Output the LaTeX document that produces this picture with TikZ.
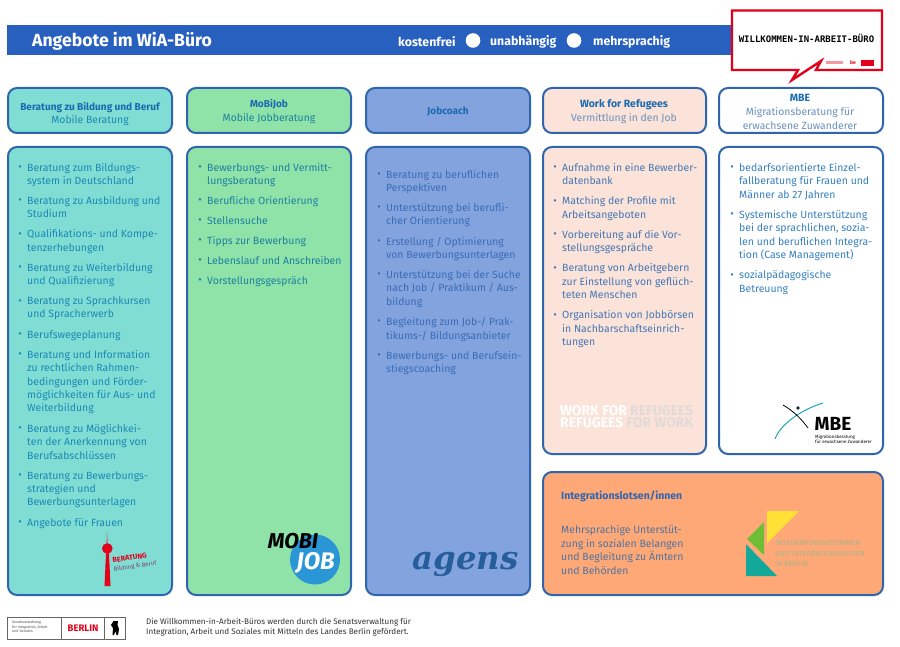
\documentclass[tikz,border=0pt]{standalone}
\usepackage{fontspec}
\setmainfont{Fira Sans}
\newfontfamily\agensfont{DejaVu Serif}
\newfontfamily\wbfont{DejaVu Sans Mono}
\usetikzlibrary{calc}
\definecolor{bordercol}{HTML}{2F65AE}
\definecolor{bannercol}{HTML}{2860C0}
\definecolor{tealfill}{HTML}{7FDDD3}
\definecolor{greenfill}{HTML}{90E3A8}
\definecolor{bluefill}{HTML}{82A3DD}
\definecolor{pinkfill}{HTML}{FBE3D9}
\definecolor{orangefill}{HTML}{FFA877}
\definecolor{tealtxt}{HTML}{1C88B6}
\definecolor{greentxt}{HTML}{1B80A0}
\definecolor{bluetxt}{HTML}{3A6CB6}
\definecolor{pinktxt}{HTML}{4576B4}
\definecolor{subtxt}{HTML}{6A90BE}
\definecolor{whitetxt}{HTML}{3680C0}
\definecolor{orangetxt}{HTML}{4E74A0}
\definecolor{headtxt}{HTML}{1B6AB0}
\definecolor{redc}{HTML}{E2001A}
\definecolor{mobiblue}{HTML}{2A96D6}
\definecolor{mbeteal}{HTML}{20A8B8}
\definecolor{ilyellow}{HTML}{FFE135}
\definecolor{ilgreen}{HTML}{6DBE35}
\definecolor{ilteal}{HTML}{14A89A}
\definecolor{iltext}{HTML}{A9B38C}
\definecolor{agenscol}{HTML}{265E9C}
\definecolor{wfrlight}{HTML}{E2DAD8}
\tikzset{
  x=1pt,y=-1pt,
  panel/.style={draw=bordercol,line width=2pt,rounded corners=9pt},
  hd/.style={inner sep=0pt,align=center,text=headtxt,font=\fontsize{10.05}{13.4}\selectfont\bfseries},
  sub/.style={inner sep=0pt,align=center,font=\fontsize{10.4}{13.6}\selectfont},
  lst/.style={inner sep=0pt,anchor=north west,align=left,font=\fontsize{10.45}{13.4}\selectfont},
  blt/.style={inner sep=0pt,font=\fontsize{10.6}{13.4}\selectfont},
  bann/.style={inner sep=0pt,text=white,font=\fontsize{12.3}{14}\selectfont\bfseries},
  wfr/.style={inner sep=0pt,anchor=west,align=left,text=white,font=\fontsize{13.9}{12}\selectfont\bfseries},
}
\newcommand{\itm}[5]{%
  \node[blt,text=#5] (b#1) at (#2-7,#3+1.5) {•};
  \node[lst,text=#5] (t#1) at (#2,#3-4) {#4};}
\begin{document}
\begin{tikzpicture}
\useasboundingbox (0,0) rectangle (900,647);
% banner
\fill[bannercol] (7,25) rectangle (740,55);
\node[bann,anchor=west,font=\fontsize{17.6}{20}\selectfont\bfseries] (title) at (32,41) {Angebote im WiA-Büro};
\node[bann,anchor=west] (k1) at (398,41.5) {kostenfrei};
\fill[white] (473,40.5) circle (7.3);
\node[bann,anchor=west] (k2) at (490,41.5) {unabhängig};
\fill[white] (574,40.5) circle (7.3);
\node[bann,anchor=west] (k3) at (593,41.5) {mehrsprachig};
% callout
\draw[redc,line width=2.4pt,fill=white,miter limit=10] (732,10.5) -- (882,10.5) -- (882,70) -- (816,70) -- (821,61) -- (792,80) -- (798,70) -- (732,70) -- cycle;
\node[inner sep=0pt,font=\wbfont\fontsize{9}{10}\selectfont\bfseries,text=black] (wb) at (806.5,38) {WILLKOMMEN-IN-ARBEIT-BÜRO};
\fill[redc!40] (826,61) rectangle (843,64);
\node[inner sep=0pt,font=\fontsize{5}{5}\selectfont\bfseries,text=redc] (be) at (853,63) {be};
\fill[redc] (861,60.5) rectangle (874,66);
% header panels
\path[panel,fill=tealfill] (8,88) rectangle (172,133);
\path[panel,fill=greenfill] (187,88) rectangle (351,133);
\path[panel,fill=bluefill] (366,88) rectangle (530,133);
\path[panel,fill=pinkfill] (543,88) rectangle (706,133);
\path[panel,fill=white] (719,88) rectangle (883,133);
% body panels
\path[panel,fill=tealfill] (8,147) rectangle (172,595);
\path[panel,fill=greenfill] (187,147) rectangle (351,595);
\path[panel,fill=bluefill] (366,147) rectangle (530,595);
\path[panel,fill=pinkfill] (543,147) rectangle (706,454);
\path[panel,fill=white] (719,147) rectangle (883,454);
\path[panel,fill=orangefill] (543,472) rectangle (883,595);
% header text
\node[hd,anchor=center] (h1a) at (90,107.5) {Beratung zu Bildung und Beruf};
\node[sub,text=tealtxt] (h1b) at (90,120.5) {Mobile Beratung};
\node[hd] (h2a) at (269,104.5) {MoBiJob};
\node[sub,text=greentxt] (h2b) at (269,118.5) {Mobile Jobberatung};
\node[hd] (h3a) at (448,111.5) {Jobcoach};
\node[hd,font=\fontsize{10.5}{13.4}\selectfont\bfseries] (h4a) at (624,104.5) {Work for Refugees};
\node[sub,text=subtxt] (h4b) at (624,118.5) {Vermittlung in den Job};
\node[hd,font=\fontsize{10.5}{13.4}\selectfont\bfseries] (h5a) at (800,97.5) {MBE};
\node[sub,text=subtxt] (h5b) at (800,118.5) {Migrationsberatung für\\erwachsene Zuwanderer};
% col 1
\itm{a1}{27}{167}{Beratung zum Bildungs-\\system in Deutschland}{tealtxt}
\itm{a2}{27}{200}{Beratung zu Ausbildung und\\Studium}{tealtxt}
\itm{a3}{27}{233.5}{Qualifikations- und Kompe-\\tenzerhebungen}{tealtxt}
\itm{a4}{27}{267}{Beratung zu Weiterbildung\\und Qualifizierung}{tealtxt}
\itm{a5}{27}{300.5}{Beratung zu Sprachkursen\\und Spracherwerb}{tealtxt}
\itm{a6}{27}{334}{Berufswegeplanung}{tealtxt}
\itm{a7}{27}{354}{Beratung und Information\\zu rechtlichen Rahmen-\\bedingungen und Förder-\\möglichkeiten für Aus- und\\Weiterbildung}{tealtxt}
\itm{a8}{27}{428}{Beratung zu Möglichkei-\\ten der Anerkennung von\\Berufsabschlüssen}{tealtxt}
\itm{a9}{27}{475}{Beratung zu Bewerbungs-\\strategien und\\Bewerbungsunterlagen}{tealtxt}
\itm{a10}{27}{522}{Angebote für Frauen}{tealtxt}
% col 2
\itm{c1}{207}{167}{Bewerbungs- und Vermitt-\\lungsberatung}{greentxt}
\itm{c2}{207}{200}{Berufliche Orientierung}{greentxt}
\itm{c3}{207}{220}{Stellensuche}{greentxt}
\itm{c4}{207}{240}{Tipps zur Bewerbung}{greentxt}
\itm{c5}{207}{260}{Lebenslauf und Anschreiben}{greentxt}
\itm{c6}{207}{280}{Vorstellungsgespräch}{greentxt}
% col 3
\itm{d1}{386}{174}{Beratung zu beruflichen\\Perspektiven}{bluetxt}
\itm{d2}{386}{207}{Unterstützung bei berufli-\\cher Orientierung}{bluetxt}
\itm{d3}{386}{240.5}{Erstellung / Optimierung\\von Bewerbungsunterlagen}{bluetxt}
\itm{d4}{386}{274}{Unterstützung bei der Suche\\nach Job / Praktikum / Aus-\\bildung}{bluetxt}
\itm{d5}{386}{321}{Begleitung zum Job-/ Prak-\\tikums-/ Bildungsanbieter}{bluetxt}
\itm{d6}{386}{355}{Bewerbungs- und Berufsein-\\stiegscoaching}{bluetxt}
% col 4
\itm{e1}{562}{167}{Aufnahme in eine Bewerber-\\datenbank}{pinktxt}
\itm{e2}{562}{200.5}{Matching der Profile mit\\Arbeitsangeboten}{pinktxt}
\itm{e3}{562}{234}{Vorbereitung auf die Vor-\\stellungsgespräche}{pinktxt}
\itm{e4}{562}{267.5}{Beratung von Arbeitgebern\\zur Einstellung von geflüch-\\teten Menschen}{pinktxt}
\itm{e5}{562}{314.5}{Organisation von Jobbörsen\\in Nachbarschaftseinrich-\\tungen}{pinktxt}
% col 5
\itm{f1}{739}{167}{bedarfsorientierte Einzel-\\fallberatung für Frauen und\\Männer ab 27 Jahren}{whitetxt}
\itm{f2}{739}{214}{Systemische Unterstützung\\bei der sprachlichen, sozia-\\len und beruflichen Integra-\\tion (Case Management)}{whitetxt}
\itm{f3}{739}{274.5}{sozialpädagogische\\Betreuung}{whitetxt}
% integration
\node[hd,anchor=west,text=bordercol,font=\fontsize{10.5}{13}\selectfont\bfseries] (i1) at (561,496) {Integrationslotsen/innen};
\node[lst,text=orangetxt,font=\fontsize{10.45}{13.5}\selectfont] (i2) at (561,525.5) {Mehrsprachige Unterstüt-\\zung in sozialen Belangen\\und Begleitung zu Ämtern\\und Behörden};
% tower logo
\fill[redc] (107,532) -- (107.6,546) -- (109,554) -- (110.5,586) -- (104.5,586) -- (106,554) -- (106.6,546) -- cycle;
\fill[redc] (107.3,548.5) circle (5.3);
\node[inner sep=0pt,rotate=8,align=left,font=\fontsize{6}{8.4}\selectfont,text=tealtxt!50!redc] (tb) at (134.5,562) {\textcolor{redc}{\fontsize{7.2}{8.4}\selectfont\bfseries BERATUNG}\\Bildung \& Beruf};
% mobijob logo
\fill[mobiblue] (315,559.5) circle (25);
\node[inner sep=0pt,font=\fontsize{21.5}{22}\selectfont\bfseries\itshape,text=black] (m1) at (293,541.5) {MOBI};
\node[inner sep=0pt,font=\fontsize{24}{24}\selectfont\bfseries\itshape,text=white] (m2) at (315.5,563) {JOB};
% agens logo
\node[inner sep=0pt,font=\agensfont\fontsize{32.4}{33}\selectfont\bfseries\itshape,text=agenscol] (ag) at (465.5,564) {agens};
% work for refugees logo
\node[wfr] (w1) at (560,417) {WORK FOR \textcolor{wfrlight}{REFUGEES}\\REFUGEES \textcolor{wfrlight}{FOR WORK}};
% MBE logo
\draw[mbeteal,line width=1pt] (775,439) .. controls (780,425) and (800,410) .. (823,403);
\draw[black,line width=0.8pt] (783,405) .. controls (795,412) and (802,420) .. (808,428);
\fill[bordercol!40!black] (798,408) circle (1.8);
\node[inner sep=0pt,font=\fontsize{19}{20}\selectfont\bfseries,text=black] (mb) at (833,423.5) {MBE};
\node[inner sep=0pt,anchor=north west,align=left,font=\fontsize{4.5}{5.6}\selectfont,text=black] (mt) at (815,434.5) {Migrationsberatung\\für erwachsene Zuwanderer};
% integration logo
\fill[ilyellow] (767,511) -- (799,511) -- (767,543) -- cycle;
\fill[ilgreen] (764,522) -- (764,555) -- (747,539) -- cycle;
\fill[ilteal] (746,544) -- (777,576) -- (746,576) -- cycle;
\node[inner sep=0pt,anchor=north west,align=left,font=\fontsize{7.4}{10.7}\selectfont,text=iltext] (il) at (775,540) {INTEGRATIONSLOTSINNEN\\UND INTEGRATIONSLOTSEN\\IN BERLIN};
% footer
\draw[black!60,line width=0.5pt] (7.5,617.5) rectangle (125.5,639) (61,617.5) -- (61,639) (104.5,617.5) -- (104.5,639);
\node[inner sep=0pt,anchor=north west,align=left,font=\fontsize{3.6}{4.6}\selectfont,text=black!70] (s1) at (12,620.5) {Senatsverwaltung\\für Integration, Arbeit\\und Soziales};
\node[inner sep=0pt,font=\fontsize{9.5}{10}\selectfont\bfseries,text=redc] (s2) at (83,628.5) {BERLIN};
\fill[black] (113.5,621) -- (118,621) -- (117.5,625) -- (119,629) -- (118,635) -- (116.5,635) -- (115.5,631) -- (114,635) -- (112.5,635) -- (113,628) -- (111,625) -- cycle;
\node[inner sep=0pt,anchor=north west,align=left,font=\fontsize{8.08}{10.1}\selectfont,text=black!80] (ft) at (146,618) {Die Willkommen-in-Arbeit-Büros werden durch die Senatsverwaltung für\\Integration, Arbeit und Soziales mit Mitteln des Landes Berlin gefördert.};
\end{tikzpicture}
\end{document}
